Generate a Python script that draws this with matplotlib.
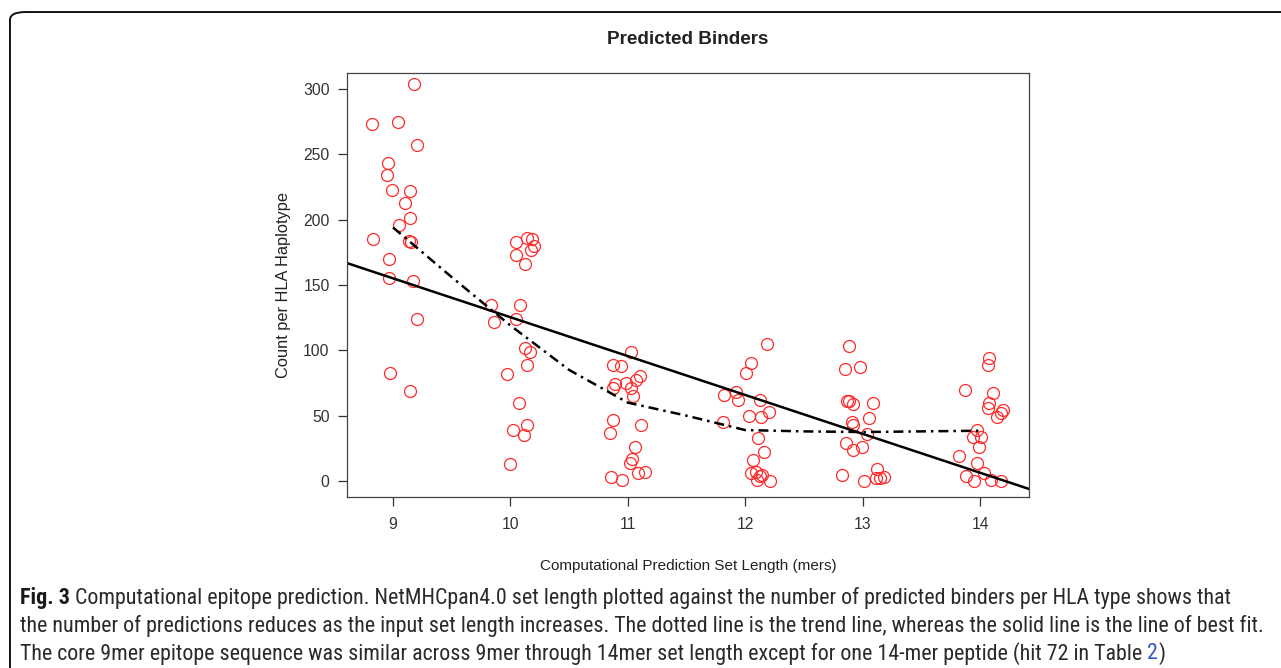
import matplotlib
matplotlib.use('Agg')
import matplotlib.pyplot as plt
from matplotlib import font_manager
from matplotlib.patches import FancyBboxPatch

# jittered set length (mers) and count per HLA haplotype, grouped by set length
X9 = [9.179, 8.819, 9.043, 9.200, 8.960, 8.951, 8.990, 9.142, 9.100, 9.142,
      9.054, 8.832, 9.150, 9.140, 8.966, 8.963, 9.170, 9.200, 8.974, 9.148]
Y9 = [304, 273, 275, 257, 243, 234, 223, 222, 213, 201,
      196, 185, 183, 184, 170, 155, 153, 124, 83, 69]
X10 = [10.045, 10.139, 10.180, 10.200, 10.175, 10.045, 10.127, 9.835, 10.079, 9.860,
       10.045, 10.127, 10.170, 10.139, 9.970, 10.070, 10.141, 10.020, 10.118, 10.000]
Y10 = [183, 186, 185, 180, 177, 173, 166, 135, 135, 122,
       124, 102, 99, 89, 82, 60, 43, 39, 35, 13]
X11 = [11.027, 10.877, 10.940, 11.107, 11.068, 10.980, 10.894, 10.877, 11.025, 11.047,
       10.871, 11.112, 10.846, 11.060, 11.035, 11.016, 11.087, 11.147, 10.854, 10.948]
Y11 = [99, 89, 88, 80, 77, 75, 74, 71, 71, 65,
       47, 43, 37, 26, 17, 14, 6, 7, 3, 1]
X12 = [12.183, 12.047, 12.004, 11.820, 11.920, 11.940, 12.126, 12.205, 12.032, 12.130,
       11.814, 12.106, 12.163, 12.064, 12.047, 12.090, 12.126, 12.098, 12.145, 12.208]
Y12 = [105, 90, 83, 66, 68, 62, 62, 53, 50, 49,
       45, 33, 22, 16, 6, 7, 4, 1, 5, 0]
X13 = [12.884, 12.850, 12.975, 12.864, 12.886, 12.920, 13.090, 13.057, 12.907, 12.916,
       13.035, 12.855, 12.916, 12.995, 12.820, 13.015, 13.126, 13.110, 13.148, 13.180]
Y13 = [103, 86, 87, 61, 61, 59, 60, 48, 45, 43,
       36, 29, 24, 26, 5, 0, 9, 2, 2, 3]
X14 = [14.080, 14.070, 13.875, 14.110, 14.080, 14.070, 14.197, 14.180, 14.143, 13.978,
       13.944, 14.010, 13.990, 13.820, 13.970, 13.884, 14.037, 14.090, 13.950, 14.180]
Y14 = [94, 89, 70, 67, 60, 56, 54, 52, 49, 39,
       34, 34, 26, 19, 14, 4, 6, 1, 0, 0]

# trend line (dash-dot)
TREND_X = [9, 9.5, 10, 10.5, 11, 11.5, 12, 12.5, 13, 13.5, 14]
TREND_Y = [194, 156, 119, 85, 60, 50, 39, 38, 37.5, 38, 38.5]

# line of best fit (solid)
FIT_INTERCEPT = 422.85
FIT_SLOPE = -29.75

XTICKS = [9, 10, 11, 12, 13, 14]
YTICKS = [0, 50, 100, 150, 200, 250, 300]

CAPTION = [
    ("Fig. 3", " Computational epitope prediction. NetMHCpan4.0 set length plotted against "
               "the number of predicted binders per HLA type shows that", None),
    ("", "the number of predictions reduces as the input set length increases. The dotted "
         "line is the trend line, whereas the solid line is the line of best fit.", None),
    ("", "The core 9mer epitope sequence was similar across 9mer through 14mer set length "
         "except for one 14-mer peptide (hit 72 in Table ", ("2", ")")),
]

plt.rcParams['font.family'] = ['Liberation Sans', 'DejaVu Sans']

# narrow face for the caption if one is installed
names = {f.name for f in font_manager.fontManager.ttflist}
cap_font = ['Liberation Sans']
for cand in ['Liberation Sans Narrow', 'DejaVu Sans Condensed', 'Roboto Condensed',
             'Open Sans Condensed', 'Noto Sans Condensed']:
    if cand in names:
        cap_font = [cand]
        break
cap_font = cap_font + ['DejaVu Sans']

fig = plt.figure(figsize=(12.81, 6.68), dpi=100)

box = FancyBboxPatch((0.0078, -0.2), 1.2, 1.182, transform=fig.transFigure,
                     boxstyle='round,pad=0,rounding_size=0.012', fc='none',
                     ec='#111111', lw=1.4, clip_on=False)
fig.patches.append(box)

ax = fig.add_axes([0.2709, 0.256, 0.5324, 0.6347])
xs = X9 + X10 + X11 + X12 + X13 + X14
ys = Y9 + Y10 + Y11 + Y12 + Y13 + Y14
ax.plot(xs, ys, 'o', ms=8.6, mfc='none', mec='#ff2a2a', mew=0.9, ls='none')
ax.axline((0, FIT_INTERCEPT), slope=FIT_SLOPE, color='black', lw=1.8)
ax.plot(TREND_X, TREND_Y, color='black', lw=1.8, dashes=(4, 2, 1, 2))

ax.set_xlim(8.608, 14.417)
ax.set_ylim(-12.2, 312.2)
ax.set_xticks(XTICKS)
ax.set_yticks(YTICKS)
ax.tick_params(length=6.5, width=0.9, colors='#333333', labelsize=11.3, pad=6)
ax.tick_params(axis='x', pad=8)
for sp in ax.spines.values():
    sp.set_color('#444444')
    sp.set_linewidth(0.9)
ax.set_title('Predicted Binders', fontsize=13.6, fontweight='bold', color='#222222', pad=21)
ax.set_xlabel('Computational Prediction Set Length (mers)', fontsize=11,
              color='#222222', labelpad=19)
ax.set_ylabel('Count per HLA Haplotype', fontsize=11.8, color='#222222', labelpad=9)

# caption with bold lead-in and a blue table reference, sized so line 2 ends near x=1255
fig.canvas.draw()
renderer = fig.canvas.get_renderer()
probe = fig.text(0, 0, CAPTION[1][1], fontsize=14, family=cap_font)
w = probe.get_window_extent(renderer).width
probe.remove()
cap_size = min(17.0, 14 * 1250 / w)

line_y = [0.105, 0.063, 0.021]
to_fig = fig.transFigure.inverted()
for (bold, rest, link), yy in zip(CAPTION, line_y):
    x0 = 20 / 1281
    if bold:
        t = fig.text(x0, yy, bold, fontsize=cap_size, fontweight='bold', family=cap_font,
                     color='#1a1a1a', va='center')
        x0 = to_fig.transform((t.get_window_extent(renderer).x1, 0))[0]
    t = fig.text(x0, yy, rest, fontsize=cap_size, family=cap_font, color='#2a2a2a',
                 va='center')
    if link:
        x1 = to_fig.transform((t.get_window_extent(renderer).x1, 0))[0]
        t2 = fig.text(x1, yy, link[0], fontsize=cap_size, family=cap_font, color='#3355cc',
                      va='center')
        x2 = to_fig.transform((t2.get_window_extent(renderer).x1, 0))[0]
        fig.text(x2, yy, link[1], fontsize=cap_size, family=cap_font, color='#2a2a2a',
                 va='center')

fig.savefig('out.png', dpi=100)
